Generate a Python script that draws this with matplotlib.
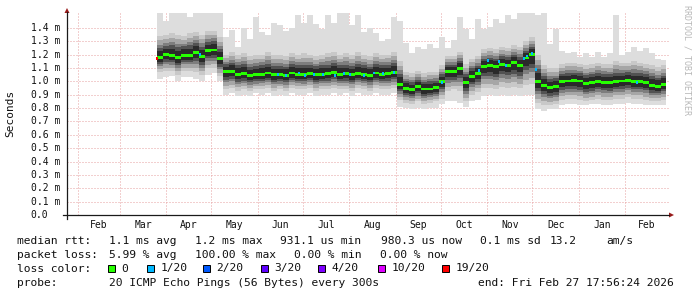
import matplotlib
matplotlib.use("Agg")
import matplotlib.pyplot as plt
import numpy as np
import pandas as pd
from matplotlib.lines import Line2D
from matplotlib.patches import Polygon, Rectangle
from matplotlib.transforms import blended_transform_factory

# ---- data (ms), one sample every 4 days ----
sample_times = pd.date_range("2025-03-25 17:00", periods=85, freq="4D")

rtt_median = [
    1.18, 1.2, 1.195, 1.18, 1.197, 1.197, 1.215, 1.185, 1.23, 1.235, 1.17,
    1.072, 1.077, 1.055, 1.06, 1.043, 1.05, 1.055, 1.063, 1.05,
    1.05, 1.047, 1.063, 1.055, 1.05, 1.058, 1.05, 1.055, 1.058, 1.067,
    1.055, 1.058, 1.05, 1.058, 1.055, 1.047, 1.063, 1.055, 1.058, 1.067,
    0.98, 0.948, 0.94, 0.96, 0.943, 0.943, 0.955,
    1.0, 1.073, 1.073, 1.1, 0.99, 1.04, 1.06, 1.115, 1.12, 1.11, 1.13, 1.122, 1.14, 1.12, 1.175, 1.2,
    1.0, 0.97, 0.953, 0.96,
    0.998, 1.003, 1.005, 1.003, 0.985, 0.99, 0.998, 0.993, 0.99, 0.998, 1.003, 1.01, 0.998, 0.998,
    0.993, 0.97, 0.963, 0.98,
]
rtt_max = [
    1.51, 1.45, 1.51, 1.51, 1.51, 1.48, 1.51, 1.51, 1.51, 1.51, 1.51,
    1.335, 1.385, 1.26, 1.4, 1.32, 1.48, 1.37, 1.35, 1.44,
    1.42, 1.38, 1.4, 1.5, 1.44, 1.5, 1.43, 1.39, 1.5, 1.44,
    1.51, 1.51, 1.42, 1.5, 1.37, 1.4, 1.36, 1.3, 1.32, 1.48,
    1.45, 1.285, 1.21, 1.26, 1.24, 1.28, 1.25,
    1.33, 1.25, 1.31, 1.48, 1.39, 1.32, 1.47, 1.39, 1.41, 1.47, 1.44, 1.5, 1.47, 1.51, 1.51, 1.51,
    1.5, 1.51, 1.28, 1.39,
    1.23, 1.21, 1.22, 1.18, 1.21, 1.18, 1.22, 1.18, 1.21, 1.5, 1.2, 1.22, 1.26, 1.23,
    1.25, 1.21, 1.17, 1.16,
]
rtt_hi = [
    1.34, 1.35, 1.36, 1.35, 1.34, 1.36, 1.37, 1.35, 1.38, 1.38, 1.33,
    1.2, 1.22, 1.2, 1.21, 1.19, 1.2, 1.2, 1.22, 1.2,
    1.2, 1.19, 1.21, 1.2, 1.21, 1.2, 1.19, 1.2, 1.21, 1.22,
    1.2, 1.21, 1.2, 1.22, 1.2, 1.19, 1.21, 1.2, 1.2, 1.22,
    1.15, 1.07, 1.06, 1.08, 1.06, 1.07, 1.07,
    1.12, 1.19, 1.19, 1.22, 1.13, 1.17, 1.19, 1.24, 1.25, 1.24, 1.26, 1.25, 1.27, 1.26, 1.3, 1.33,
    1.2, 1.12, 1.1, 1.1,
    1.13, 1.14, 1.14, 1.13, 1.12, 1.13, 1.14, 1.13, 1.13, 1.15, 1.14, 1.14, 1.15, 1.14,
    1.13, 1.12, 1.11, 1.12,
]
rtt_lo = [
    1.07, 1.08, 1.08, 1.05, 1.08, 1.08, 1.07, 1.05, 1.1, 1.1, 1.04,
    0.94, 0.95, 0.93, 0.94, 0.93, 0.94, 0.94, 0.95, 0.93,
    0.94, 0.93, 0.95, 0.94, 0.94, 0.95, 0.93, 0.94, 0.94, 0.95,
    0.94, 0.94, 0.93, 0.95, 0.94, 0.93, 0.95, 0.94, 0.94, 0.95,
    0.86, 0.84, 0.83, 0.85, 0.83, 0.84, 0.85,
    0.87, 0.93, 0.94, 0.93, 0.85, 0.9, 0.92, 0.95, 0.95, 0.94, 0.96, 0.95, 0.96, 0.95, 0.97, 0.98,
    0.84, 0.82, 0.82, 0.83,
    0.86, 0.87, 0.87, 0.86, 0.85, 0.86, 0.87, 0.86, 0.86, 0.87, 0.87, 0.88, 0.87, 0.87,
    0.86, 0.85, 0.85, 0.86,
]
rtt_min = [
    1.02, 1.03, 1.04, 1.0, 1.03, 1.03, 1.02, 1.0, 1.05, 1.06, 1.0,
    0.9, 0.91, 0.89, 0.9, 0.89, 0.91, 0.9, 0.91, 0.89,
    0.9, 0.89, 0.91, 0.9, 0.9, 0.91, 0.89, 0.9, 0.9, 0.91,
    0.9, 0.91, 0.89, 0.91, 0.9, 0.9, 0.91, 0.9, 0.9, 0.91,
    0.81, 0.8, 0.79, 0.8, 0.79, 0.8, 0.8,
    0.83, 0.85, 0.85, 0.84, 0.81, 0.85, 0.86, 0.89, 0.9, 0.89, 0.9, 0.89, 0.9, 0.89, 0.9, 0.9,
    0.79, 0.78, 0.79, 0.79,
    0.82, 0.83, 0.83, 0.82, 0.82, 0.83, 0.83, 0.82, 0.82, 0.83, 0.83, 0.84, 0.83, 0.83,
    0.82, 0.82, 0.82, 0.82,
]

# points where the median line shows packet loss
loss_times = pd.to_datetime([
    "2025-03-25 17:00", "2025-04-23 12:00", "2025-06-14 12:00", "2025-06-19 12:00",
    "2025-06-28 12:00", "2025-07-02 12:00", "2025-07-08 12:00", "2025-07-14 12:00",
    "2025-07-22 12:00", "2025-07-28 12:00", "2025-08-01 12:00", "2025-08-10 12:00",
    "2025-08-17 12:00", "2025-08-23 12:00", "2025-08-30 12:00", "2025-10-01 12:00",
    "2025-10-26 12:00", "2025-11-01 12:00", "2025-11-08 12:00", "2025-11-13 12:00",
    "2025-11-25 12:00", "2025-11-27 12:00", "2025-11-30 12:00", "2025-12-03 12:00",
    "2026-02-08 12:00",
])
loss_rtt = [1.17, 1.2, 1.05, 1.047, 1.063, 1.043, 1.055, 1.055, 1.047, 1.058, 1.05, 1.047,
            1.063, 1.058, 1.067, 0.99, 1.08, 1.155, 1.148, 1.12, 1.17, 1.19, 1.21, 1.09, 0.995]
loss_count = [19, 1, 1, 1, 1, 1, 1, 1, 1, 1, 1, 1, 1, 1, 1, 1, 1, 1, 1, 1, 1, 1, 1, 1, 1]

loss_legend = ["0", "1/20", "2/20", "3/20", "4/20", "10/20", "19/20"]
loss_colors = ["#26ff00", "#00b8ff", "#0059ff", "#5e00ff", "#7e00ff", "#dd00ff", "#ff0000"]
loss_levels = [0, 1, 2, 3, 4, 10, 19]

month_labels = ["Feb", "Mar", "Apr", "May", "Jun", "Jul", "Aug", "Sep", "Oct", "Nov", "Dec", "Jan", "Feb"]
y_ticks = [0.0, 0.1, 0.2, 0.3, 0.4, 0.5, 0.6, 0.7, 0.8, 0.9, 1.0, 1.1, 1.2, 1.3, 1.4]

# ---- layout helpers (pixel coordinates of a 697x297 image) ----
W, H = 697, 297
MONO = "DejaVu Sans Mono"
plt.rcParams["lines.scale_dashes"] = False


def fx(px):
    return px / W


def fy(py):
    return 1 - py / H


origin = pd.Timestamp("2025-02-01")


def to_days(t):
    return np.asarray((t - origin) / pd.Timedelta(days=1), dtype=float)


fig = plt.figure(figsize=(W / 100, H / 100), dpi=100)
fig.patch.set_facecolor("white")
ax = fig.add_axes([fx(67), fy(215), fx(669) - fx(67), fy(13) - fy(215)])
ax.set_xlim(-7.33, 394)
ax.set_ylim(0, 1.512)
ax.axis("off")

# grid
grid_kw = dict(color="#e6a0a0", lw=0.72, ls=(0, (0.72, 1.44)), zorder=0)
for v in y_ticks[1:]:
    ax.axhline(v, **grid_kw)
month_starts = pd.date_range("2025-02-01", "2026-03-01", freq="MS")
mdays = to_days(month_starts)
for d in mdays[:-1]:
    ax.axvline(d, **grid_kw)

# smoke
days = to_days(sample_times)
end_day = to_days(pd.Timestamp("2026-02-27 17:56"))
xs = np.append(days, end_day)


def ext(a):
    a = np.asarray(a, dtype=float)
    return np.append(a, a[-1])


med = ext(rtt_median)
lo, hi = ext(rtt_lo), ext(rtt_hi)
ax.fill_between(xs, ext(rtt_min), ext(rtt_max), step="post", color="#dddddd", lw=0, zorder=1)
fracs = [0.0, 0.2, 0.4, 0.55, 0.7]
shades = ["#c8c8c8", "#a6a6a6", "#7e7e7e", "#525252", "#2a2a2a"]
for f, c in zip(fracs, shades):
    top = hi + (med - hi) * f
    bot = lo + (med - lo) * f
    ax.fill_between(xs, bot, top, step="post", color=c, lw=0, zorder=2)

# median band (smokeping stacks a thin area on the median)
half = 0.011
ax.fill_between(xs, med - half, med + half, step="post", color=loss_colors[0], lw=0, zorder=4)
ld = to_days(loss_times)
for d, r, n in zip(ld, loss_rtt, loss_count):
    col = loss_colors[loss_levels.index(n)]
    ax.add_patch(Rectangle((d - 0.7, r - half), 1.4, 2 * half, color=col, lw=0, zorder=5))

# axes lines and arrows
axis_col = "#1a1a1a"
arrow_col = "#9b1c1c"
fig.add_artist(Line2D([fx(63), fx(669)], [fy(215), fy(215)], color=axis_col, lw=0.9))
fig.add_artist(Line2D([fx(67), fx(67)], [fy(219), fy(12)], color=axis_col, lw=0.9))
fig.add_artist(Polygon([[fx(64.5), fy(13)], [fx(69.5), fy(13)], [fx(67), fy(8)]],
                       closed=True, color=arrow_col, lw=0))
fig.add_artist(Polygon([[fx(669), fy(212.5)], [fx(669), fy(217.5)], [fx(674), fy(215)]],
                       closed=True, color=arrow_col, lw=0))

# tick labels
ytr = blended_transform_factory(fig.transFigure, ax.transData)
for v in y_ticks:
    lab = "%.1f" % v if v == 0 else "%.1f m" % v
    ax.text(fx(30.5), v, lab, transform=ytr, ha="left", va="center",
            family=MONO, fontsize=7, color="#111111")
xtr = blended_transform_factory(ax.transData, fig.transFigure)
for i, lab in enumerate(month_labels):
    mid = (mdays[i] + mdays[i + 1]) / 2
    ax.text(mid, fy(225), lab, transform=xtr, ha="center", va="center",
            family=MONO, fontsize=7, color="#111111")

fig.text(fx(10), fy(113), "Seconds", rotation=90, ha="center", va="center",
         family=MONO, fontsize=8, color="#111111")
fig.text(fx(687), fy(60), "RRDTOOL / TOBI OETIKER", rotation=270, ha="center", va="center",
         family=MONO, fontsize=6, color="#b8b8b8")

# legend lines
LFS = 8.1


def put(x, y, s):
    fig.text(fx(x), fy(y), s, ha="left", va="center", family=MONO, fontsize=LFS, color="#111111")


line1 = [(16.7, "median rtt:"), (109, "1.1 ms avg"), (194.7, "1.2 ms max"), (280, "931.1 us min"),
         (381, "980.3 us now"), (479.5, "0.1 ms sd"), (549.5, "13.2"), (606.7, "am/s")]
line2 = [(16.7, "packet loss:"), (109, "5.99 % avg"), (194.7, "100.00 % max"),
         (294, "0.00 % min"), (380, "0.00 % now")]
line4 = [(16.7, "probe:"), (109, "20 ICMP Echo Pings (56 Bytes) every 300s"),
         (478.3, "end: Fri Feb 27 17:56:24 2026")]
for x, s in line1:
    put(x, 241, s)
for x, s in line2:
    put(x, 254.5, s)
put(16.7, 268.5, "loss color:")
box_x = [108, 146.7, 203, 261, 318, 378.3, 441.7]
for bx, lab, col in zip(box_x, loss_legend, loss_colors):
    fig.add_artist(Rectangle((fx(bx), fy(272)), fx(7), 7 / H, facecolor=col,
                             edgecolor="#000000", lw=0.7))
    put(bx + 13.5, 268.5, lab)
for x, s in line4:
    put(x, 283, s)

fig.savefig("out.png", dpi=100, facecolor="white")
